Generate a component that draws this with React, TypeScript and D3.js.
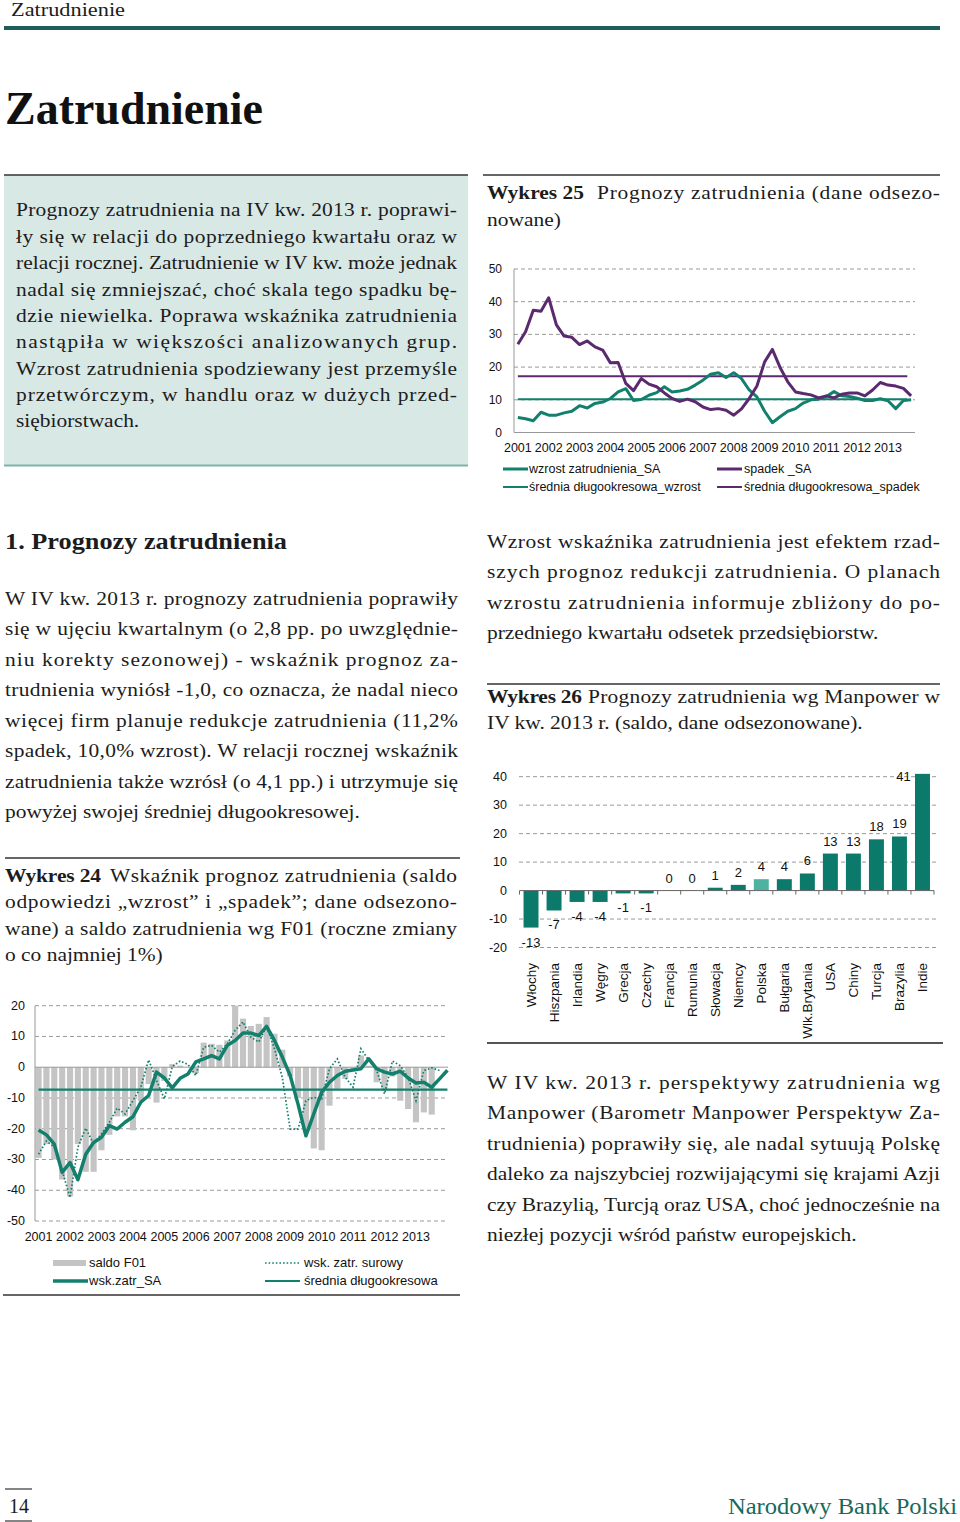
import React from 'react';
import * as d3 from 'd3';

const W = 960;
const H = 1522;
const SERIF = '"Liberation Serif", "Times New Roman", serif';
const SANS = '"Liberation Sans", Arial, sans-serif';
const TEAL = '#12806d';
const PURPLE = '#5b2a6e';
const TXT = '#1c1c1c';
const SX = 1.1;

// ---------- DATA ----------
const years = ['2001','2002','2003','2004','2005','2006','2007','2008','2009','2010','2011','2012','2013'];
const qNames = ['I','II','III','IV'];
const quarters25 = years.flatMap(y => qNames.map(q => `${q} ${y}`));
const quarters24 = [...quarters25, 'I 2014'];

// Wykres 25
const wzrostSA = [4.6, 4.2, 3.6, 6.2, 5.3, 5.3, 6.0, 6.5, 8.2, 7.5, 8.9, 9.3, 10.4, 12.4, 13.4, 9.8, 10.1, 11.4, 12.2, 14.0, 12.4, 12.7, 13.2, 14.5, 16.0, 17.8, 18.3, 16.8, 18.3, 16.5, 13.0, 10.9, 6.5, 3.0, 4.8, 6.5, 7.3, 9.0, 10.0, 10.2, 11.0, 12.5, 11.2, 11.0, 10.5, 9.8, 9.8, 10.3, 9.7, 7.3, 9.8, 10.0];
const spadekSA = [27.0, 30.8, 37.4, 37.1, 41.2, 32.9, 29.5, 29.1, 26.9, 28.0, 26.2, 25.2, 21.3, 21.4, 15.0, 12.8, 16.5, 14.8, 14.0, 12.1, 10.4, 9.5, 10.2, 9.4, 7.8, 7.0, 7.3, 6.8, 5.3, 7.2, 10.4, 14.2, 21.6, 25.4, 19.9, 15.5, 12.4, 11.9, 11.5, 10.6, 11.2, 10.6, 11.7, 12.1, 12.1, 11.2, 13.0, 15.3, 14.5, 14.2, 13.5, 11.2];
const sredniaWzrost = 10.2;
const sredniaSpadek = 17.2;
const ticks25 = [0, 10, 20, 30, 40, 50];

// Wykres 24
const saldoF01 = [-29.5, -25, -30, -36.5, -42, -25, -34, -34, -27, -22, -16, -16, -20.5, -11, -5.5, -11.5, -4.5, 1, 0.5, 0, -2, 8, 7.6, 7.3, 8.7, 20, 15.8, 13.4, 14.1, 16.3, 10.9, 5.7, -3, -10, -21, -26.4, -27, -12.5, -7, -3.8, -0.5, 3.8, 0.5, -4.9, -7.6, -3, -10.9, -13.6, -17.9, -14.7, -15.4];
const wskSA = [-20.4, -22, -25, -34.2, -31, -36.6, -28.3, -24.5, -22.8, -19, -20.1, -17.9, -16.1, -11.4, -9.2, -1.6, -3.5, -6.7, -3.6, -2.2, 1.7, 2.7, 3.8, 2.7, 7.1, 8.7, 11.1, 11.1, 10.3, 13.3, 8.7, 3.3, -2.7, -12, -22.3, -15.2, -8.2, -4.9, -2.7, -1.3, -0.9, -0.5, 2.7, -0.5, -1.6, -2.2, -1.3, -3.5, -5.1, -4.9, -6.5, -3.8, -1.0];
const wskSurowy = [-28.3, -24, -26, -33.7, -42.4, -26, -19.8, -25, -21.7, -17.9, -13.3, -15.2, -10.9, -6.5, 2.4, -4.3, -10.3, 0.2, 2.0, 0.9, -2.7, 6.5, 7.1, 4.9, 7.6, 12, 14.7, 9.8, 8.2, 13.3, 6, -3.3, -20.1, -20.1, -10.9, -9.8, -10.3, -0.5, 2.7, -3.3, -6.5, 6, 2.2, -1.1, -8.7, 2, 0.5, -3.3, -10.9, -1.1, -0.2, -1.1];
const srednia24 = -7.3;
const ticks24 = [20, 10, 0, -10, -20, -30, -40, -50];

// Wykres 26
const countries = ['Włochy', 'Hiszpania', 'Irlandia', 'Węgry', 'Grecja', 'Czechy', 'Francja', 'Rumunia', 'Słowacja', 'Niemcy', 'Polska', 'Bułgaria', 'Wlk.Brytania', 'USA', 'Chiny', 'Turcja', 'Brazylia', 'Indie'];
const manpower = [-13, -7, -4, -4, -1, -1, 0, 0, 1, 2, 4, 4, 6, 13, 13, 18, 19, 41];
const ticks26 = [40, 30, 20, 10, 0, -10, -20];

// ---------- TEXT LAYOUT ----------
type Line = { t: string; x: number; y: number; w?: number; b?: boolean };

const boxLines: Line[] = [
  { t: 'Prognozy zatrudnienia na IV kw. 2013 r. poprawi-', x: 16, y: 216, w: 441 },
  { t: 'ły się w relacji do poprzedniego kwartału oraz w', x: 16, y: 243, w: 441 },
  { t: 'relacji rocznej. Zatrudnienie w IV kw. może jednak', x: 16, y: 269, w: 441 },
  { t: 'nadal się zmniejszać, choć skala tego spadku bę-', x: 16, y: 296, w: 441 },
  { t: 'dzie niewielka. Poprawa wskaźnika zatrudnienia', x: 16, y: 322, w: 441 },
  { t: 'nastąpiła w większości analizowanych grup.', x: 16, y: 348, w: 441 },
  { t: 'Wzrost zatrudnienia spodziewany jest przemyśle', x: 16, y: 375, w: 441 },
  { t: 'przetwórczym, w handlu oraz w dużych przed-', x: 16, y: 401, w: 441 },
  { t: 'siębiorstwach.', x: 16, y: 427 },
];

const leftPara: Line[] = [
  { t: 'W IV kw. 2013 r. prognozy zatrudnienia poprawiły', x: 5, y: 605, w: 453 },
  { t: 'się w ujęciu kwartalnym (o 2,8 pp. po uwzględnie-', x: 5, y: 635, w: 453 },
  { t: 'niu korekty sezonowej) - wskaźnik prognoz za-', x: 5, y: 666, w: 453 },
  { t: 'trudnienia wyniósł -1,0, co oznacza, że nadal nieco', x: 5, y: 696, w: 453 },
  { t: 'więcej firm planuje redukcje zatrudnienia (11,2%', x: 5, y: 727, w: 453 },
  { t: 'spadek, 10,0% wzrost). W relacji rocznej wskaźnik', x: 5, y: 757, w: 453 },
  { t: 'zatrudnienia także wzrósł (o 4,1 pp.) i utrzymuje się', x: 5, y: 788, w: 453 },
  { t: 'powyżej swojej średniej długookresowej.', x: 5, y: 818 },
];

const w24Lines: Line[] = [
  { t: 'Wykres 24', x: 5, y: 882, w: 96, b: true },
  { t: 'Wskaźnik prognoz zatrudnienia (saldo', x: 110, y: 882, w: 347 },
  { t: 'odpowiedzi „wzrost” i „spadek”; dane odsezono-', x: 5, y: 908, w: 452 },
  { t: 'wane) a saldo zatrudnienia wg F01 (roczne zmiany', x: 5, y: 935, w: 452 },
  { t: 'o co najmniej 1%)', x: 5, y: 961 },
];

const rightPara1: Line[] = [
  { t: 'Wzrost wskaźnika zatrudnienia jest efektem rzad-', x: 487, y: 548, w: 453 },
  { t: 'szych prognoz redukcji zatrudnienia. O planach', x: 487, y: 578, w: 453 },
  { t: 'wzrostu zatrudnienia informuje zbliżony do po-', x: 487, y: 609, w: 453 },
  { t: 'przedniego kwartału odsetek przedsiębiorstw.', x: 487, y: 639 },
];

const w25Lines: Line[] = [
  { t: 'Wykres 25', x: 487, y: 199, w: 97, b: true },
  { t: 'Prognozy zatrudnienia (dane odsezo-', x: 597, y: 199, w: 343 },
  { t: 'nowane)', x: 487, y: 226 },
];

const w26Lines: Line[] = [
  { t: 'Wykres 26', x: 487, y: 703, w: 95, b: true },
  { t: 'Prognozy zatrudnienia wg Manpower w', x: 588, y: 703, w: 352 },
  { t: 'IV kw. 2013 r. (saldo, dane odsezonowane).', x: 487, y: 729 },
];

const rightPara2: Line[] = [
  { t: 'W IV kw. 2013 r. perspektywy zatrudnienia wg', x: 487, y: 1089, w: 453 },
  { t: 'Manpower (Barometr Manpower Perspektyw Za-', x: 487, y: 1119, w: 453 },
  { t: 'trudnienia) poprawiły się, ale nadal sytuują Polskę', x: 487, y: 1150, w: 453 },
  { t: 'daleko za najszybciej rozwijającymi się krajami Azji', x: 487, y: 1180, w: 453 },
  { t: 'czy Brazylią, Turcją oraz USA, choć jednocześnie na', x: 487, y: 1211, w: 453 },
  { t: 'niezłej pozycji wśród państw europejskich.', x: 487, y: 1241 },
];

function Lines({ lines, size = 19.5 }: { lines: Line[]; size?: number }) {
  return (
    <g fontFamily={SERIF} fontSize={size} fill={TXT}>
      {lines.map((l, i) => (
        <text
          key={i}
          transform={`translate(${l.x},${l.y}) scale(${SX},1)`}
          fontWeight={l.b ? 'bold' : undefined}
          textLength={l.w ? l.w / SX : undefined}
          lengthAdjust={l.w ? 'spacing' : undefined}
        >
          {l.t}
        </text>
      ))}
    </g>
  );
}

// ---------- CHART 25 ----------
function Chart25() {
  const x = d3.scaleBand<string>().domain(quarters25).range([514, 915]);
  const y = d3.scaleLinear().domain([0, 50]).range([432.5, 269]);
  const cx = (i: number) => (x(quarters25[i]) as number) + x.bandwidth() / 2;
  const line = d3.line<number>().x((_, i) => cx(i)).y(d => y(d));
  const avgX0 = cx(0);
  const avgX1 = x(quarters25[51]) as number;
  return (
    <g fontFamily={SANS} fontSize={12} fill="#111">
      {ticks25.filter(t => t > 0).map(t => (
        <line key={t} x1={514} x2={915} y1={y(t)} y2={y(t)} stroke="#999" strokeDasharray="4 3" strokeWidth={1} />
      ))}
      <line x1={514} x2={514} y1={y(50)} y2={y(0)} stroke="#999" />
      <line x1={514} x2={915} y1={y(0)} y2={y(0)} stroke="#999" />
      {ticks25.map(t => (
        <text key={t} x={502} y={y(t) + 4} textAnchor="end">{t}</text>
      ))}
      {years.map((yr, k) => (
        <text key={yr} x={cx(k * 4)} y={452} textAnchor="middle" fontSize={12.5}>{yr}</text>
      ))}
      <line x1={avgX0} x2={avgX1} y1={y(sredniaSpadek)} y2={y(sredniaSpadek)} stroke={PURPLE} strokeWidth={2} />
      <line x1={avgX0} x2={avgX1} y1={y(sredniaWzrost)} y2={y(sredniaWzrost)} stroke={TEAL} strokeWidth={2} />
      <path d={line(wzrostSA) || ''} fill="none" stroke={TEAL} strokeWidth={3} strokeLinejoin="round" />
      <path d={line(spadekSA) || ''} fill="none" stroke={PURPLE} strokeWidth={3} strokeLinejoin="round" />
      {/* legend */}
      <g fontSize={12.5}>
        <line x1={503} x2={528} y1={469} y2={469} stroke={TEAL} strokeWidth={3} />
        <text x={529} y={473}>wzrost zatrudnienia_SA</text>
        <line x1={717} x2={742} y1={469} y2={469} stroke={PURPLE} strokeWidth={3} />
        <text x={744} y={473}>spadek _SA</text>
        <line x1={503} x2={528} y1={487} y2={487} stroke={TEAL} strokeWidth={2} />
        <text x={529} y={491}>średnia długookresowa_wzrost</text>
        <line x1={717} x2={742} y1={487} y2={487} stroke={PURPLE} strokeWidth={2} />
        <text x={744} y={491}>średnia długookresowa_spadek</text>
      </g>
    </g>
  );
}

// ---------- CHART 24 ----------
function Chart24() {
  const x = d3.scaleBand<string>().domain(quarters24).range([35.5, 450.5]).paddingInner(0.22);
  const y = d3.scaleLinear().domain([-50, 20]).range([1221, 1005.7]);
  const cx = (i: number) => (x(quarters24[i]) as number) + x.bandwidth() / 2;
  const line = d3.line<number>().x((_, i) => cx(i)).y(d => y(d));
  const x0 = 35;
  const x1 = 448;
  return (
    <g fontFamily={SANS} fontSize={12.5} fill="#111">
      {ticks24.filter(t => t !== 0).map(t => (
        <line key={t} x1={x0} x2={x1} y1={y(t)} y2={y(t)} stroke="#999" strokeDasharray="4 3" />
      ))}
      {saldoF01.map((v, i) => (
        <rect key={i} x={x(quarters24[i])} width={x.bandwidth()} y={Math.min(y(v), y(0))} height={Math.abs(y(v) - y(0))} fill="#c4c4c4" />
      ))}
      <line x1={x0} x2={x0} y1={y(20)} y2={y(-50)} stroke="#999" />
      <line x1={x0} x2={x1} y1={y(0)} y2={y(0)} stroke="#999" />
      {ticks24.map(t => (
        <text key={t} x={25} y={y(t) + 4} textAnchor="end">{t}</text>
      ))}
      {years.map((yr, k) => (
        <text key={yr} x={cx(k * 4)} y={1241} textAnchor="middle">{yr}</text>
      ))}
      <line x1={cx(0)} x2={cx(52)} y1={y(srednia24)} y2={y(srednia24)} stroke={TEAL} strokeWidth={2.2} />
      <path d={line(wskSurowy) || ''} fill="none" stroke={TEAL} strokeWidth={1.7} strokeDasharray="1.6 2" />
      <path d={line(wskSA) || ''} fill="none" stroke={TEAL} strokeWidth={3.5} strokeLinejoin="round" />
      {/* legend */}
      <g fontSize={13}>
        <rect x={53} y={1260} width={33} height={6} fill="#c4c4c4" />
        <text x={89} y={1267}>saldo F01</text>
        <line x1={265} x2={300} y1={1263} y2={1263} stroke={TEAL} strokeWidth={1.6} strokeDasharray="1.6 2" />
        <text x={304} y={1267}>wsk. zatr. surowy</text>
        <line x1={53} x2={88} y1={1281} y2={1281} stroke={TEAL} strokeWidth={3.5} />
        <text x={89} y={1285}>wsk.zatr_SA</text>
        <line x1={265} x2={300} y1={1281} y2={1281} stroke={TEAL} strokeWidth={2} />
        <text x={304} y={1285}>średnia długookresowa</text>
      </g>
    </g>
  );
}

// ---------- CHART 26 ----------
function Chart26() {
  const x = d3.scaleBand<string>().domain(countries).range([519.5, 934]).paddingInner(0.35).paddingOuter(0.175);
  const y = d3.scaleLinear().domain([-20, 40]).range([947.5, 776.7]);
  const step = x.step();
  const left = 519.5;
  return (
    <g fontFamily={SANS} fontSize={13} fill="#111">
      {ticks26.filter(t => t !== 0).map(t => (
        <line key={t} x1={519} x2={936} y1={y(t)} y2={y(t)} stroke="#999" strokeDasharray="4 3" />
      ))}
      {ticks26.map(t => (
        <text key={t} x={507} y={y(t) + 4} textAnchor="end" fontSize={12.5}>{t}</text>
      ))}
      {manpower.map((v, i) => {
        const c = countries[i];
        const bx = x(c) as number;
        const yt = Math.min(y(v), y(0));
        const yb = Math.max(y(v), y(0));
        return (
          <rect key={c} x={bx} width={x.bandwidth()} y={yt} height={yb - yt} fill={c === 'Polska' ? '#4db3a0' : '#0b7a6a'} />
        );
      })}
      <line x1={left} x2={934} y1={y(0)} y2={y(0)} stroke="#666" />
      {d3.range(countries.length + 1).map(k => (
        <line key={k} x1={left + k * step} x2={left + k * step} y1={y(0)} y2={y(0) + 4} stroke="#666" />
      ))}
      {manpower.map((v, i) => {
        const c = countries[i];
        const mid = (x(c) as number) + x.bandwidth() / 2;
        let lx = mid;
        let ly = v >= 0 ? y(v) - 8 : y(v) + 19;
        if (v >= 0 && ly - 10 < y(40)) {
          lx = mid - 19;
          ly = y(v) + 7;
        }
        return <text key={c} x={lx} y={ly} textAnchor="middle">{v}</text>;
      })}
      {countries.map(c => {
        const mid = (x(c) as number) + x.bandwidth() / 2;
        return (
          <text key={c} transform={`translate(${mid},963) rotate(-90)`} dy="0.35em" textAnchor="end" fontSize={13.5}>{c}</text>
        );
      })}
    </g>
  );
}

export default function App() {
  return (
    <svg width={W} height={H} viewBox={`0 0 ${W} ${H}`} style={{ position: 'absolute', left: 0, top: 0, background: '#fff' }}>
      <rect x={0} y={0} width={W} height={H} fill="#fff" />
      {/* page header */}
      <text x={11} y={16} fontFamily={SERIF} fontSize={18} fill={TXT} textLength={114} lengthAdjust="spacingAndGlyphs">Zatrudnienie</text>
      <rect x={4} y={26} width={936} height={4} fill="#1f5e5a" />
      <text x={5} y={124} fontFamily={SERIF} fontSize={46} fontWeight="bold" fill="#111" textLength={258} lengthAdjust="spacingAndGlyphs">Zatrudnienie</text>

      {/* summary box */}
      <rect x={4} y={175} width={464} height={291} fill="#d8e8e5" />
      <line x1={4} x2={468} y1={175} y2={175} stroke="#333" strokeWidth={1.5} />
      <line x1={4} x2={468} y1={465.5} y2={465.5} stroke="#7fb3aa" strokeWidth={2} />
      <Lines lines={boxLines} />

      {/* Wykres 25 */}
      <line x1={483} x2={940} y1={175} y2={175} stroke="#333" strokeWidth={1.5} />
      <Lines lines={w25Lines} />
      <Chart25 />

      {/* section heading */}
      <text x={5} y={549} fontFamily={SERIF} fontSize={23} fontWeight="bold" fill={TXT} textLength={282} lengthAdjust="spacingAndGlyphs">1. Prognozy zatrudnienia</text>
      <Lines lines={leftPara} />

      {/* Wykres 24 */}
      <line x1={5} x2={460} y1={858} y2={858} stroke="#333" strokeWidth={1.5} />
      <Lines lines={w24Lines} />
      <Chart24 />
      <line x1={3} x2={460} y1={1295} y2={1295} stroke="#333" strokeWidth={1.5} />

      {/* right paragraph */}
      <Lines lines={rightPara1} />

      {/* Wykres 26 */}
      <line x1={487} x2={940} y1={684} y2={684} stroke="#333" strokeWidth={1.5} />
      <Lines lines={w26Lines} />
      <Chart26 />
      <line x1={487} x2={943} y1={1043} y2={1043} stroke="#555" strokeWidth={2} />

      <Lines lines={rightPara2} />

      {/* footer */}
      <line x1={5} x2={32} y1={1489} y2={1489} stroke="#333" strokeWidth={1.2} />
      <text x={9} y={1513} fontFamily={SERIF} fontSize={20} fill={TXT}>14</text>
      <line x1={5} x2={32} y1={1521} y2={1521} stroke="#333" strokeWidth={1.2} />
      <text x={728} y={1514} fontFamily={SERIF} fontSize={24} fill="#17695c" textLength={229} lengthAdjust="spacingAndGlyphs">Narodowy Bank Polski</text>
    </svg>
  );
}
